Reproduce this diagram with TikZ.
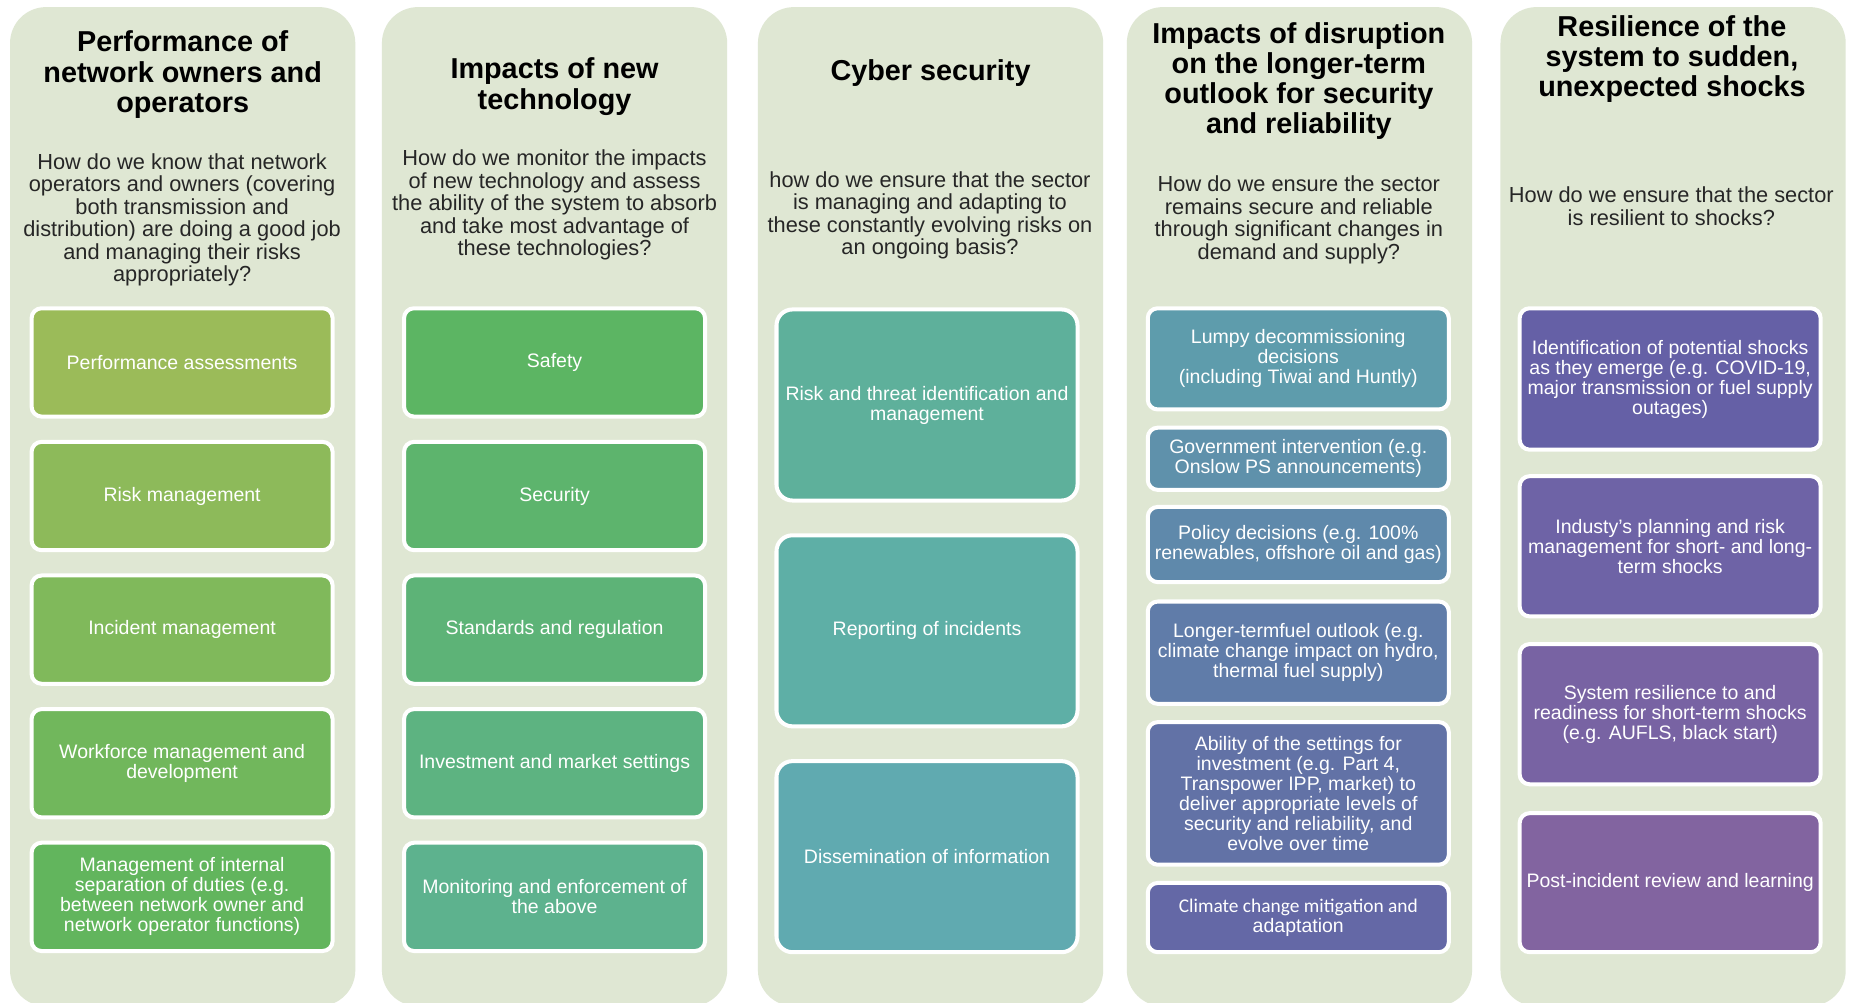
\documentclass[tikz,border=0pt]{standalone}
\usepackage{fontspec}
\setmainfont{Liberation Sans}
\newfontfamily\calibfont{Carlito}
\newlength\pxu
\setlength\pxu{0.5912pt}
\definecolor{colbg}{HTML}{DFE7D3}
\definecolor{qtext}{HTML}{262626}
\definecolor{ca1}{HTML}{9BBB59}
\definecolor{ca2}{HTML}{8DBA5A}
\definecolor{ca3}{HTML}{80B95B}
\definecolor{ca4}{HTML}{71B75C}
\definecolor{ca5}{HTML}{62B55D}
\definecolor{cb1}{HTML}{5CB563}
\definecolor{cb2}{HTML}{5DB46D}
\definecolor{cb3}{HTML}{5DB377}
\definecolor{cb4}{HTML}{5DB381}
\definecolor{cb5}{HTML}{5DB28E}
\definecolor{cc1}{HTML}{5EB09B}
\definecolor{cc2}{HTML}{5EAFA6}
\definecolor{cc3}{HTML}{60AAB0}
\definecolor{cd1}{HTML}{5E9CAC}
\definecolor{cd2}{HTML}{5F91AB}
\definecolor{cd3}{HTML}{5F89AB}
\definecolor{cd4}{HTML}{607CA9}
\definecolor{cd5}{HTML}{6272A6}
\definecolor{cd6}{HTML}{6468A6}
\definecolor{ce1}{HTML}{6560A6}
\definecolor{ce2}{HTML}{6E63A6}
\definecolor{ce3}{HTML}{7863A3}
\definecolor{ce4}{HTML}{8264A0}
\tikzset{
  colbox/.style={fill=colbg, draw=none, rounded corners=18pt, minimum width=292\pxu, minimum height=845\pxu, inner sep=0pt},
  ttl/.style={font=\fontsize{14.4}{15.1}\selectfont\bfseries, align=center, text=black, inner sep=0pt},
  qst/.style={font=\fontsize{10.9}{11.2}\selectfont, align=center, text=qtext, inner sep=0pt},
  itm/.style={draw=white, line width=3.4\pxu, rounded corners=5pt, text=white, font=\fontsize{9.75}{10}\selectfont, align=center, minimum width=254.6\pxu, inner sep=0pt},
}
\newcommand\mkbox[6]{\node[itm, fill=#1, minimum height=#5\pxu] (#2) at (#3,#4) {#6};}
\begin{document}
\begin{tikzpicture}[x=0.5912pt,y=-0.5912pt]
\clip (0,0) rectangle (1568,848);
\fill[white] (0,0) rectangle (1568,848);
% columns
\node[colbox] (col1) at (154.5,428.5) {};
\node[colbox] (col2) at (469,428.5) {};
\node[colbox] (col3) at (787,428.5) {};
\node[colbox] (col4) at (1099,428.5) {};
\node[colbox] (col5) at (1415,428.5) {};
% titles
\node[ttl] (t1) at (154.5,63.2) {Performance of\\network owners and\\operators};
\node[ttl] (t2) at (469,73.2) {Impacts of new\\technology};
\node[ttl] (t3) at (787,61.7) {Cyber security};
\node[ttl] (t4) at (1098.5,68.7) {Impacts of disruption\\on the longer-term\\outlook for security\\and reliability};
\node[ttl] (t5) at (1414,49.7) {Resilience of the\\system to sudden,\\unexpected shocks};
% questions
\node[qst] (q1) at (154,186) {How do we know that network\\operators and owners (covering\\both transmission and\\distribution) are doing a good job\\and managing their risks\\appropriately?};
\node[qst] (q2) at (469,173.5) {How do we monitor the impacts\\of new technology and assess\\the ability of the system to absorb\\and take most advantage of\\these technologies?};
\node[qst] (q3) at (786.5,182) {how do we ensure that the sector\\is managing and adapting to\\these constantly evolving risks on\\an ongoing basis?};
\node[qst] (q4) at (1098.5,186) {How do we ensure the sector\\remains secure and reliable\\through significant changes in\\demand and supply?};
\node[qst] (q5) at (1413.5,174.5) {How do we ensure that the sector\\is resilient to shocks?};
% column 1
\mkbox{ca1}{a1}{154}{306.5}{91.6}{Performance assessments}
\mkbox{ca2}{a2}{154}{419.5}{91.6}{Risk management}
\mkbox{ca3}{a3}{154}{532.5}{91.6}{Incident management}
\mkbox{ca4}{a4}{154}{645.5}{91.6}{Workforce management and\\development}
\mkbox{ca5}{a5}{154}{758.5}{91.6}{Management of internal\\separation of duties (e.g.\\between network owner and\\network operator functions)}
% column 2
\mkbox{cb1}{b1}{469}{306.5}{91.6}{Safety}
\mkbox{cb2}{b2}{469}{419.5}{91.6}{Security}
\mkbox{cb3}{b3}{469}{532.5}{91.6}{Standards and regulation}
\mkbox{cb4}{b4}{469}{645.5}{91.6}{Investment and market settings}
\mkbox{cb5}{b5}{469}{758.5}{91.6}{Monitoring and enforcement of\\the above}
% column 3
\tikzset{itm/.append style={rounded corners=8pt}}
\mkbox{cc1}{c1}{784}{342.5}{161.6}{Risk and threat identification and\\management}
\mkbox{cc2}{c2}{784}{533.5}{161.6}{Reporting of incidents}
\mkbox{cc3}{c3}{784}{724.5}{161.6}{Dissemination of information}
\tikzset{itm/.append style={rounded corners=5pt}}
% column 4
\mkbox{cd1}{d1}{1098}{303.5}{85.6}{Lumpy decommissioning\\decisions\\(including Tiwai and Huntly)}
\mkbox{cd2}{d2}{1098}{388}{52.6}{Government intervention (e.g.\\Onslow PS announcements)}
\mkbox{cd3}{d3}{1098}{460.5}{63.6}{Policy decisions (e.g. 100\%\\renewables, offshore oil and gas)}
\mkbox{cd4}{d4}{1098}{552}{86.6}{Longer-termfuel outlook (e.g.\\climate change impact on hydro,\\thermal fuel supply)}
\mkbox{cd5}{d5}{1098}{671}{120.6}{Ability of the settings for\\investment (e.g. Part 4,\\Transpower IPP, market) to\\deliver appropriate levels of\\security and reliability, and\\evolve over time}
\mkbox{cd6}{d6}{1098}{776}{58.6}{\calibfont\fontsize{9.7}{10.6}\selectfont Climate change mitigation and\\adaptation}
% column 5
\mkbox{ce1}{e1}{1412.5}{320.5}{119.6}{Identification of potential shocks\\as they emerge (e.g. COVID-19,\\major transmission or fuel supply\\outages)}
\mkbox{ce2}{e2}{1412.5}{462}{118.6}{Industy's planning and risk\\management for short- and long-\\term shocks}
\mkbox{ce3}{e3}{1412.5}{604}{118.6}{System resilience to and\\readiness for short-term shocks\\(e.g. AUFLS, black start)}
\mkbox{ce4}{e4}{1412.5}{746.5}{117.6}{Post-incident review and learning}
\end{tikzpicture}
\end{document}
